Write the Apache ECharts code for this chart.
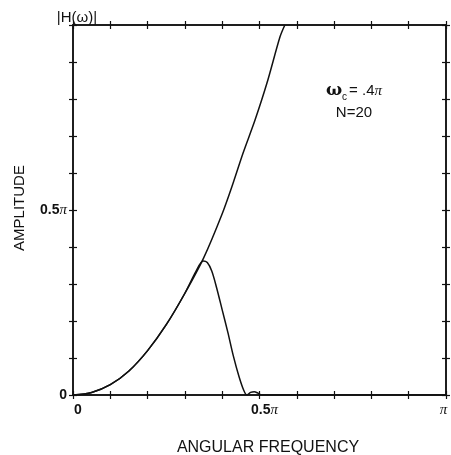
<!DOCTYPE html>
<html>
<head>
<meta charset="utf-8">
<script src="https://cdn.jsdelivr.net/npm/echarts@6/dist/echarts.min.js"></script>
<style>
  html, body { margin: 0; padding: 0; background: #fff; }
  #chart { width: 451px; height: 455px; }
</style>
</head>
<body>
<div id="chart"></div>
<script>
// Angular frequency and amplitude, both in units of π
const idealFreq = [0, 0.05, 0.10, 0.15, 0.20, 0.25, 0.30, 0.35, 0.40, 0.43, 0.456, 0.488, 0.52, 0.555, 0.568];
const idealAmp  = [0, 0.007, 0.028, 0.065, 0.12, 0.19, 0.275, 0.37, 0.49, 0.575, 0.654, 0.743, 0.843, 0.968, 1.0];

const filterFreq = [0, 0.05, 0.10, 0.15, 0.20, 0.25, 0.30, 0.33, 0.349, 0.36, 0.372, 0.385, 0.40, 0.415, 0.43, 0.445, 0.458, 0.466, 0.476, 0.486, 0.496, 0.505, 0.6, 0.8, 1.0];
const filterAmp  = [0, 0.007, 0.028, 0.065, 0.12, 0.19, 0.275, 0.335, 0.362, 0.358, 0.335, 0.29, 0.23, 0.17, 0.105, 0.05, 0.012, 0, 0.007, 0.009, 0.005, 0, 0, 0, 0];

// Tick labels shown on the axes
const xTickLabels = { 0: '{nx|0}', 0.5: '{nx|0.5}{p|π}', 1: '{q|π}' };
const yTickLabels = { 0: '{n|0}', 0.5: '{n|0.5}{p|π}' };

const pairs = (xs, ys) => xs.map((x, i) => [x, ys[i]]);
const fmt = (table) => (v) => {
  const key = Math.round(v * 10) / 10;
  return table[key] !== undefined ? table[key] : '';
};

const labelRich = {
  n: { fontFamily: 'Liberation Sans', fontSize: 14, fontWeight: 'bold', color: '#111' },
  nx: { fontFamily: 'Liberation Sans', fontSize: 14, fontWeight: 'bold', color: '#111', padding: [0, 0, 0, 10] },
  p: { fontFamily: 'Liberation Serif', fontSize: 15, fontStyle: 'italic', color: '#111' },
  q: { fontFamily: 'Liberation Serif', fontSize: 15, fontStyle: 'italic', color: '#111', padding: [0, 5, 0, 0] }
};
const frameLine = { lineStyle: { color: '#111', width: 1.5 } };
const tick = (inside) => ({ show: true, inside, length: 4, lineStyle: { color: '#111', width: 1.2 } });

function xAx(position, inside, withLabels) {
  return {
    type: 'value', min: 0, max: 1, interval: 0.1, position,
    axisLine: { show: true, onZero: false, ...frameLine },
    axisTick: tick(inside),
    splitLine: { show: false },
    axisLabel: withLabels
      ? { formatter: fmt(xTickLabels), rich: labelRich, margin: 8, showMinLabel: true, showMaxLabel: true }
      : { show: false }
  };
}
function yAx(position, inside, withLabels, name) {
  return {
    type: 'value', min: 0, max: 1, interval: 0.1, position,
    name: name || '',
    nameGap: 0,
    nameTextStyle: { fontFamily: 'Liberation Sans', fontSize: 15, color: '#111', align: 'center', padding: [0, 0, 0, 8] },
    axisLine: { show: true, onZero: false, ...frameLine },
    axisTick: tick(inside),
    splitLine: { show: false },
    axisLabel: withLabels
      ? { formatter: fmt(yTickLabels), rich: labelRich, margin: 6, showMinLabel: true }
      : { show: false }
  };
}

const chart = echarts.init(document.getElementById('chart'), null, { renderer: 'canvas' });
chart.setOption({
  animation: false,
  backgroundColor: '#fff',
  grid: { left: 73, right: 5, top: 25, bottom: 60, containLabel: false, outerBoundsMode: 'none' },
  xAxis: [
    xAx('bottom', false, true),
    xAx('bottom', true, false),
    xAx('top', false, false),
    xAx('top', true, false)
  ],
  yAxis: [
    yAx('left', false, true, '|H(ω)|'),
    yAx('left', true, false),
    yAx('right', false, false),
    yAx('right', true, false)
  ],
  series: [
    {
      type: 'line', xAxisIndex: 0, yAxisIndex: 0,
      data: pairs(idealFreq, idealAmp),
      showSymbol: false, smooth: 0.3,
      lineStyle: { color: '#111', width: 1.5 },
      clip: true
    },
    {
      type: 'line', xAxisIndex: 0, yAxisIndex: 0,
      data: pairs(filterFreq, filterAmp),
      showSymbol: false, smooth: 0.3,
      lineStyle: { color: '#111', width: 1.5 },
      clip: true
    }
  ],
  graphic: [
    {
      type: 'text', rotation: Math.PI / 2, x: 20, y: 208,
      style: { text: 'AMPLITUDE', font: '15px "Liberation Sans"', fill: '#111', align: 'center', verticalAlign: 'middle' }
    },
    {
      type: 'text',
      style: { text: 'ANGULAR FREQUENCY', font: '16px "Liberation Sans"', fill: '#111', x: 268, y: 448, align: 'center', verticalAlign: 'middle' }
    },
    {
      type: 'text',
      style: {
        text: '{w|ω}{c|c}{t|= .4}{p|π}\n{t|N=20}',
        x: 354, y: 102, align: 'center', verticalAlign: 'middle', lineHeight: 22,
        rich: {
          w: { font: 'bold 17px "DejaVu Serif"', fill: '#111' },
          c: { font: '10px "Liberation Sans"', fill: '#111', verticalAlign: 'bottom', padding: [6, 2, 0, 0] },
          t: { font: '15px "Liberation Sans"', fill: '#111' },
          p: { font: 'italic 15px "Liberation Serif"', fill: '#111' }
        }
      }
    }
  ]
});
</script>
</body>
</html>
